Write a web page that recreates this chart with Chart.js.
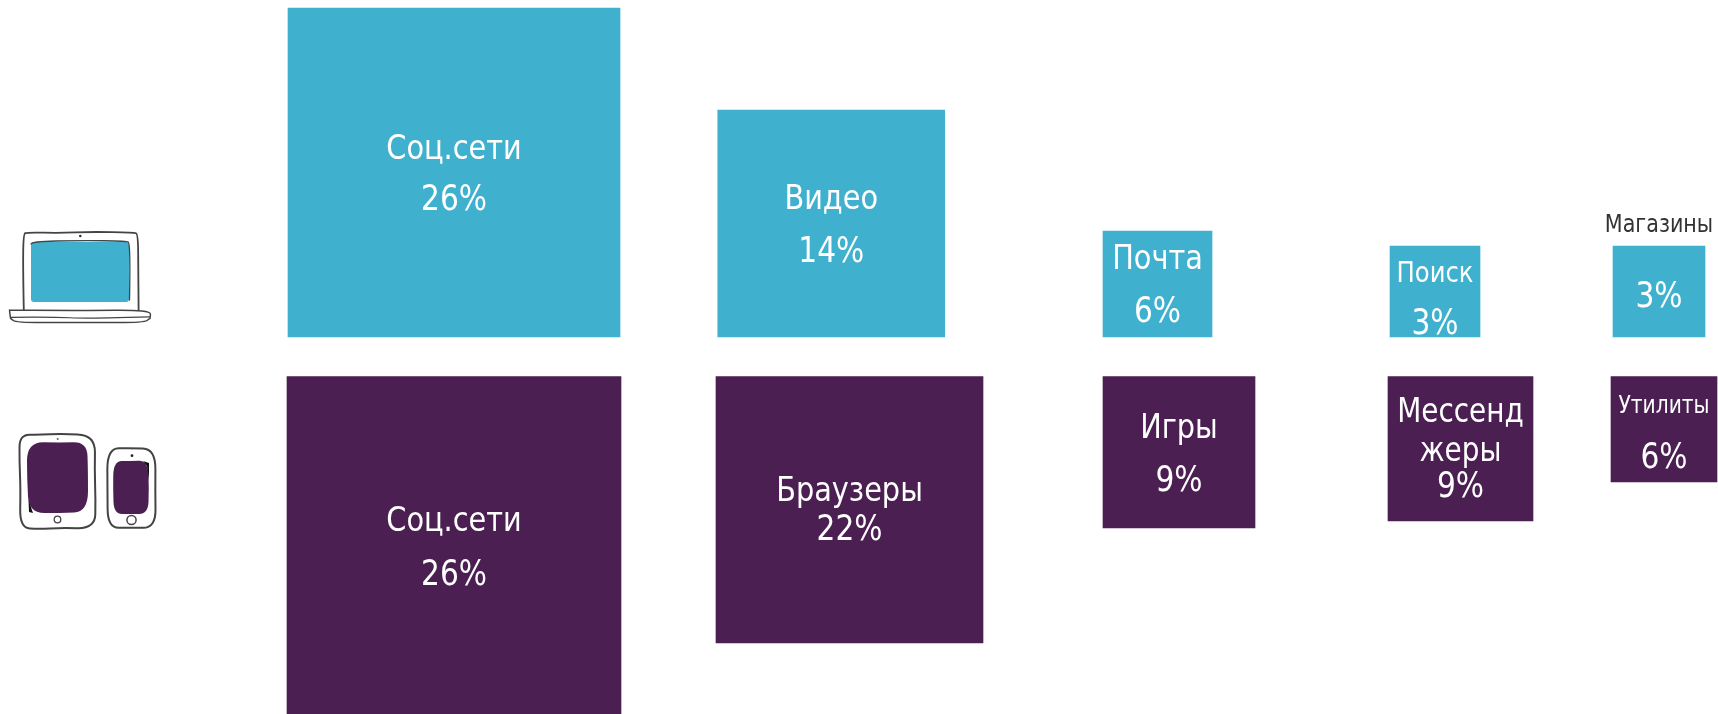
<!DOCTYPE html>
<html><head><meta charset="utf-8">
<style>html,body{margin:0;padding:0;background:#fff}canvas{display:block}</style>
<script src="https://cdn.jsdelivr.net/npm/chart.js@4"></script></head>
<body><canvas id="c" width="1718" height="714"></canvas>
<script>
// Data
const desktopCategories = [["Соц.сети"],["Видео"],["Почта"],["Поиск"],["Магазины"]];
const desktopShares = [26,14,6,3,3];
const desktopSizes = [329,227,106,91,91];
const mobileCategories = [["Соц.сети"],["Браузеры"],["Игры"],["Мессенд","жеры"],["Утилиты"]];
const mobileShares = [26,22,9,9,6];
const mobileSizes = [337.5,266.5,151.5,144.5,105.5];

// Layout (not data)
const BLUE='#3fb1ce', PURPLE='#4b1f52', GAP=19.75, TEXT_STRETCH=1.08;
const desktopX=[454,831.25,1157.5,1435,1659], desktopW=[332,227,109,90,92];
const mobileX=[454,849.5,1179,1460.5,1664], mobileW=[334,267,152,145,106];
// per-bar text: font sizes, line offsets from the top edge of the bar, colour of first line
const desktopText=[
 {fs:[32,33],dy:[142,193]},{fs:[32,33],dy:[90,143]},{fs:[32,33],dy:[29,82]},
 {fs:[27,33],dy:[28,79]},{fs:[23,33],dy:[-20,52],first:'#333333'}];
const mobileText=[
 {fs:[32,33],dy:[145.5,199.5]},{fs:[32,33],dy:[116,154]},{fs:[32,33],dy:[53,105]},
 {fs:[31,31,33],dy:[37,76,111]},{fs:[22.5,33],dy:[30,82]}];

const FONT='"DejaVu Sans Condensed","DejaVu Sans",sans-serif';
const datasets=[];
function addRow(sizes,xs,ws,color,sign){
  sizes.forEach((h,i)=>datasets.push({
    data:[{x:xs[i],y:sign>0?[GAP,GAP+h]:[-GAP,-GAP-h]}],
    backgroundColor:color,borderWidth:0,barThickness:ws[i],grouped:false}));
}
addRow(desktopSizes,desktopX,desktopW,BLUE,1);
addRow(mobileSizes,mobileX,mobileW,PURPLE,-1);

function rr(ctx,x,y,w,h,r){ctx.beginPath();ctx.roundRect(x,y,w,h,r);}
// smooth closed/open pencil line through hand-placed points
function pencil(c,pts,closed){
  c.beginPath();
  const n=pts.length, mid=(a,b)=>[(a[0]+b[0])/2,(a[1]+b[1])/2];
  if(closed){
    const s=mid(pts[n-1],pts[0]);c.moveTo(s[0],s[1]);
    for(let i=0;i<n;i++){const m=mid(pts[i],pts[(i+1)%n]);c.quadraticCurveTo(pts[i][0],pts[i][1],m[0],m[1]);}
    c.closePath();
  }else{
    c.moveTo(pts[0][0],pts[0][1]);
    for(let i=1;i<n-1;i++){const m=mid(pts[i],pts[i+1]);c.quadraticCurveTo(pts[i][0],pts[i][1],m[0],m[1]);}
    c.lineTo(pts[n-1][0],pts[n-1][1]);
  }
}
const icons={id:'icons',afterDraw(chart){
  const c=chart.ctx;c.save();c.lineJoin='round';c.lineCap='round';c.strokeStyle='#444';
  // laptop
  c.fillStyle=BLUE;rr(c,31,242,98,60,3);c.fill();
  c.lineWidth=1.3;pencil(c,[[31,244],[32,241.5],[80,240.5],[127,241],[129.5,243],[130,270],[129.5,300]]);c.stroke();
  c.lineWidth=1.8;pencil(c,[[23.8,310],[23,270],[23.4,234],[27,232.3],[60,233],[90,231.8],[134,232.5],[138,234],[138.3,270],[138.6,310]]);c.stroke();
  c.lineWidth=1.5;pencil(c,[[9.5,310],[80,310.6],[150.5,310],[150.3,318],[150,318.2],[144,322.8],[80,322.3],[16,322.8],[10.6,318.2],[10.4,318],[9.5,310]]);c.stroke();
  c.lineWidth=1.2;pencil(c,[[10.5,317.3],[55,317],[85,318.5],[150,316.8]]);c.stroke();
  c.fillStyle='#333';c.beginPath();c.arc(80.3,236,1.3,0,7);c.fill();
  // tablet
  c.fillStyle=PURPLE;pencil(c,[[27,442],[60,442.5],[87,442],[88,470],[88,512],[60,513],[29,513],[27,480]],true);c.fill();
  c.fillStyle='#111';c.beginPath();c.moveTo(28.5,500);c.lineTo(33,513);c.lineTo(29,512);c.fill();
  c.lineWidth=2;pencil(c,[[19.6,434.5],[40,434.8],[60,433.8],[95.3,435],[94.6,470],[95.6,500],[95,528.5],[60,527.8],[40,529],[19.8,528],[20.6,490],[19.4,460]],true);c.stroke();
  c.lineWidth=1.3;c.beginPath();c.arc(57.5,519.5,3.3,0,7);c.stroke();
  c.fillStyle='#666';c.beginPath();c.arc(57.7,439,1,0,7);c.fill();
  // phone
  c.fillStyle=PURPLE;pencil(c,[[113.5,461],[130,461],[148,460.5],[149,490],[148,514],[130,514],[114,514],[113,490]],true);c.fill();
  c.fillStyle='#111';c.beginPath();c.moveTo(143,461);c.lineTo(149,463);c.lineTo(149,480);c.lineTo(147,466);c.fill();
  c.lineWidth=2;pencil(c,[[107.3,448.5],[130,448],[155.6,448.8],[155.2,490],[155.8,528],[130,527.6],[107.8,528],[107.4,490]],true);c.stroke();
  c.lineWidth=1.5;c.beginPath();c.arc(131.5,520,4.6,0,7);c.stroke();
  c.fillStyle='#222';c.beginPath();c.arc(132,455.7,1.4,0,7);c.fill();
  c.restore();
}};
const labels={id:'labels',afterDatasetsDraw(chart){
  const c=chart.ctx;c.save();c.textAlign='center';c.textBaseline='middle';
  const draw=(cats,shares,text,offset)=>cats.forEach((cat,i)=>{
    const bar=chart.getDatasetMeta(i+offset).data[0];
    const top=Math.min(bar.y,bar.base);
    const lines=[...cat,shares[i]+'%'],t=text[i];
    lines.forEach((s,j)=>{
      c.font=t.fs[j]+'px '+FONT;
      c.fillStyle=(j===0&&t.first)?t.first:'#ffffff';
      c.save();
      c.translate(bar.x,top+t.dy[j]);
      c.scale(1,TEXT_STRETCH);
      c.fillText(s,0,0);
      c.restore();
    });
  });
  draw(desktopCategories,desktopShares,desktopText,0);
  draw(mobileCategories,mobileShares,mobileText,5);
  c.restore();
}};
new Chart(document.getElementById('c'),{
  type:'bar',
  data:{datasets},
  plugins:[labels,icons],
  options:{
    responsive:false,animation:false,
    layout:{padding:0},
    plugins:{legend:{display:false},tooltip:{enabled:false}},
    scales:{
      x:{type:'linear',display:false,offset:false,min:0,max:1718},
      y:{type:'linear',display:false,min:-357.25,max:356.75}
    }
  }
});
</script></body></html>
